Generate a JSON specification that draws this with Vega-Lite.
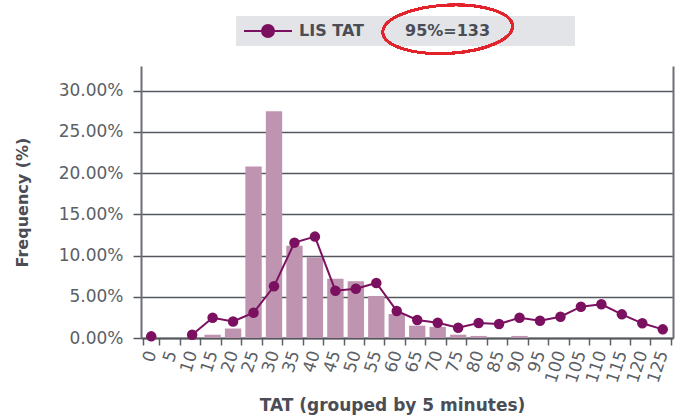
{
  "$schema": "https://vega.github.io/schema/vega-lite/v6.json",
  "width": 532,
  "height": 272,
  "autosize": {"type": "none"},
  "padding": {"left": 141, "top": 66, "right": 8, "bottom": 81},
  "background": "white",
  "config": {"view": {"stroke": null}},
  "data": {
    "values": [
      {"TAT": 0, "Bar": 0, "LIS": 0.002},
      {"TAT": 5, "Bar": 0, "LIS": null},
      {"TAT": 10, "Bar": 0, "LIS": 0.004},
      {"TAT": 15, "Bar": 0.004, "LIS": 0.0246},
      {"TAT": 20, "Bar": 0.0115, "LIS": 0.020},
      {"TAT": 25, "Bar": 0.208, "LIS": 0.0307},
      {"TAT": 30, "Bar": 0.275, "LIS": 0.0627},
      {"TAT": 35, "Bar": 0.112, "LIS": 0.1157},
      {"TAT": 40, "Bar": 0.098, "LIS": 0.123},
      {"TAT": 45, "Bar": 0.072, "LIS": 0.0574},
      {"TAT": 50, "Bar": 0.069, "LIS": 0.0598},
      {"TAT": 55, "Bar": 0.051, "LIS": 0.0667},
      {"TAT": 60, "Bar": 0.029, "LIS": 0.0328},
      {"TAT": 65, "Bar": 0.015, "LIS": 0.0218},
      {"TAT": 70, "Bar": 0.0135, "LIS": 0.0186},
      {"TAT": 75, "Bar": 0.004, "LIS": 0.0125},
      {"TAT": 80, "Bar": 0.0025, "LIS": 0.0182},
      {"TAT": 85, "Bar": 0, "LIS": 0.017},
      {"TAT": 90, "Bar": 0.0025, "LIS": 0.0246},
      {"TAT": 95, "Bar": 0, "LIS": 0.021},
      {"TAT": 100, "Bar": 0, "LIS": 0.0258},
      {"TAT": 105, "Bar": 0, "LIS": 0.038},
      {"TAT": 110, "Bar": 0, "LIS": 0.0409},
      {"TAT": 115, "Bar": 0, "LIS": 0.0287},
      {"TAT": 120, "Bar": 0, "LIS": 0.0178},
      {"TAT": 125, "Bar": 0, "LIS": 0.0105}
    ]
  },
  "layer": [
    {
      "layer": [
        {
          "mark": {"type": "bar", "color": "#bf94b0"},
          "encoding": {
            "x": {
              "field": "TAT",
              "type": "ordinal",
              "scale": {"paddingInner": 0.2, "paddingOuter": 0.1},
              "axis": {
                "title": "TAT (grouped by 5 minutes)",
                "titleFont": "DejaVu Sans",
                "titleFontSize": 17,
                "titleFontWeight": "bold",
                "titleColor": "#4a4d55",
                "titlePadding": 13,
                "titleX": 251,
                "labelAngle": -72,
                "labelFont": "DejaVu Sans",
                "labelFontSize": 17,
                "labelColor": "#5c5f66",
                "labelPadding": 6,
                "labelOverlap": false,
                "labelFlush": false,
                "tickBand": "extent",
                "tickSize": 7,
                "tickColor": "#5c6066",
                "tickWidth": 1.5,
                "domainColor": "#54585e",
                "domainWidth": 2,
                "grid": false
              }
            },
            "y": {
              "field": "Bar",
              "type": "quantitative",
              "scale": {"domain": [0, 0.33], "nice": false},
              "axis": {
                "title": "Frequency (%)",
                "titleFont": "DejaVu Sans",
                "titleFontSize": 16,
                "titleFontWeight": "bold",
                "titleColor": "#4a4d55",
                "titlePadding": 28,
                "values": [0, 0.05, 0.1, 0.15, 0.2, 0.25, 0.3],
                "format": ".2%",
                "labelFont": "DejaVu Sans",
                "labelFontSize": 17,
                "labelColor": "#5c5f66",
                "labelPadding": 10,
                "tickSize": 8,
                "tickColor": "#54585e",
                "tickWidth": 1.5,
                "grid": true,
                "gridColor": "#54585e",
                "gridWidth": 1.6,
                "domainColor": "#6b6f76",
                "domainWidth": 2
              }
            }
          }
        },
        {
          "mark": {"type": "line", "strokeWidth": 2, "invalid": "break-paths-filter-domains"},
          "encoding": {
            "x": {"field": "TAT", "type": "ordinal"},
            "y": {"field": "LIS", "type": "quantitative"},
            "color": {
              "datum": "LIS TAT",
              "scale": {"range": ["#7b1060"]},
              "legend": {
                "orient": "none",
                "legendX": 96,
                "legendY": -50,
                "direction": "horizontal",
                "title": "95%=133",
                "titleOrient": "right",
                "titleFont": "DejaVu Sans",
                "titleFontSize": 16,
                "titleFontWeight": "bold",
                "titleColor": "#4a4d55",
                "titlePadding": 41,
                "labelFont": "DejaVu Sans",
                "labelFontSize": 16,
                "labelFontWeight": "bold",
                "labelColor": "#4a4d55",
                "labelOffset": 6,
                "symbolType": "M -1 0 L 1 0 M -0.25 0 A 0.25 0.25 0 1 1 0.25 0 A 0.25 0.25 0 1 1 -0.25 0 Z",
                "symbolSize": 2304,
                "clipHeight": 18,
                "padding": 6,
                "encode": {
                  "symbols": {
                    "update": {
                      "fill": {"value": "#7b1060"},
                      "stroke": {"value": "#7b1060"},
                      "strokeWidth": {"value": 2},
                      "opacity": {"value": 1}
                    }
                  }
                }
              }
            }
          }
        },
        {
          "mark": {"type": "point", "filled": true, "size": 110, "opacity": 1},
          "encoding": {
            "x": {"field": "TAT", "type": "ordinal"},
            "y": {"field": "LIS", "type": "quantitative"},
            "color": {"datum": "LIS TAT"}
          }
        },
        {
          "mark": {
            "type": "point",
            "shape": "M -0.9456 -0.0888 L 1.0544 -0.0888 L 1.0544 0.0888 L -0.9456 0.0888 Z",
            "size": 114244,
            "filled": true,
            "color": "#e2e4e7",
            "strokeWidth": 0,
            "opacity": 1
          },
          "encoding": {
            "x": {"datum": 60, "type": "ordinal"},
            "y": {"datum": 0.37246, "type": "quantitative"}
          }
        },
        {
          "mark": {
            "type": "point",
            "shape": "M 1.1526 -0.0523 C 1.1634 0.1528 0.725 0.3426 0.1735 0.3715 C -0.3781 0.4004 -0.8339 0.2575 -0.8446 0.0523 C -0.8554 -0.1528 -0.417 -0.3426 0.1345 -0.3715 C 0.6861 -0.4004 1.1419 -0.2575 1.1526 -0.0523 Z",
            "size": 16900,
            "filled": false,
            "stroke": "#e3232c",
            "strokeWidth": 2.2,
            "opacity": 1
          },
          "encoding": {
            "x": {"datum": 70, "type": "ordinal"},
            "y": {"datum": 0.37465, "type": "quantitative"}
          }
        }
      ]
    },
    {
      "data": {"values": [{}]},
      "mark": {"type": "rule", "opacity": 0},
      "encoding": {
        "y": {
          "datum": 0,
          "type": "quantitative",
          "scale": {"domain": [0, 0.33], "nice": false},
          "axis": {
            "orient": "right",
            "labels": false,
            "ticks": false,
            "grid": false,
            "title": null,
            "domain": true,
            "domainColor": "#6b6f76",
            "domainWidth": 2
          }
        }
      }
    }
  ],
  "resolve": {"axis": {"y": "independent"}}
}
